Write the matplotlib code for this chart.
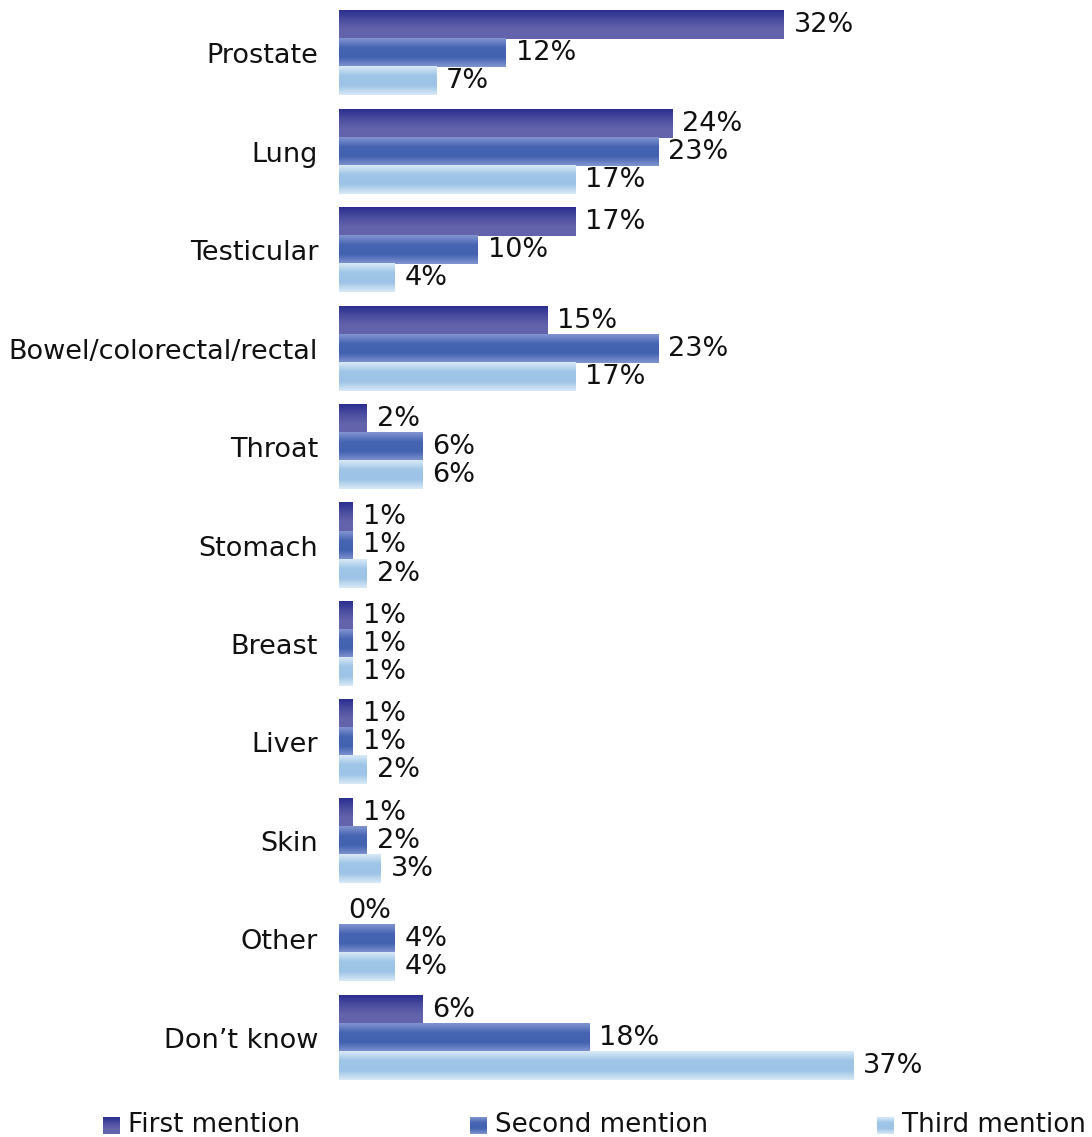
import matplotlib.pyplot as plt
import numpy as np
from matplotlib.colors import LinearSegmentedColormap

categories = ["Prostate", "Lung", "Testicular", "Bowel/colorectal/rectal", "Throat",
              "Stomach", "Breast", "Liver", "Skin", "Other", "Don\u2019t know"]
first = [32, 24, 17, 15, 2, 1, 1, 1, 1, 0, 6]
second = [12, 23, 10, 23, 6, 1, 1, 1, 2, 4, 18]
third = [7, 17, 4, 17, 6, 2, 1, 2, 3, 4, 37]
series_names = ["First mention", "Second mention", "Third mention"]

# vertical gradients, top -> bottom
grads = [
    ["#2b2f8f", "#4a4c9f", "#6363ab", "#6464ac"],
    ["#8194d0", "#4664b2", "#4262b0", "#8194d0"],
    ["#d8e9f7", "#9fc5e7", "#9dc3e6", "#d8e9f7"],
]
cmaps = [LinearSegmentedColormap.from_list("g%d" % i, c) for i, c in enumerate(grads)]
grad = np.linspace(0, 1, 64).reshape(-1, 1)

W, H = 1092, 1137
fig = plt.figure(figsize=(W / 100, H / 100), dpi=100)
ax = fig.add_axes([339 / W, 1 - 1087 / H, 695 / W, (1087 - 4) / H])

bh = 0.285
offsets = [-bh, 0, bh]
fs = 19.5

for s, vals in enumerate([first, second, third]):
    for i, v in enumerate(vals):
        y = i + offsets[s]
        top, bot = y - bh / 2, y + bh / 2
        if v > 0:
            ax.imshow(grad, cmap=cmaps[s], aspect="auto", interpolation="bilinear",
                      extent=[0, v, bot, top], zorder=2)
        ax.annotate("%d%%" % v, (v, y), xytext=(7, 0), textcoords="offset points",
                    va="center", ha="left", fontsize=fs, color="#111111")

ax.set_xlim(0, 50)
ax.set_ylim(10.5, -0.5)
ax.set_yticks(range(len(categories)))
ax.set_yticklabels(categories, fontsize=fs, color="#111111")
ax.tick_params(axis="y", length=0, pad=15)
ax.set_xticks([])
for sp in ax.spines.values():
    sp.set_visible(False)

# legend along the bottom
leg_x = [103, 470, 877]
for s, name in enumerate(series_names):
    lax = fig.add_axes([leg_x[s] / W, 1 - 1134 / H, 17 / W, 17 / H])
    lax.imshow(grad, cmap=cmaps[s], aspect="auto")
    lax.axis("off")
    fig.text((leg_x[s] + 25) / W, 1 - 1125 / H, name, fontsize=18.8, va="center", ha="left",
             color="#111111")

fig.savefig("out.png", dpi=100)
